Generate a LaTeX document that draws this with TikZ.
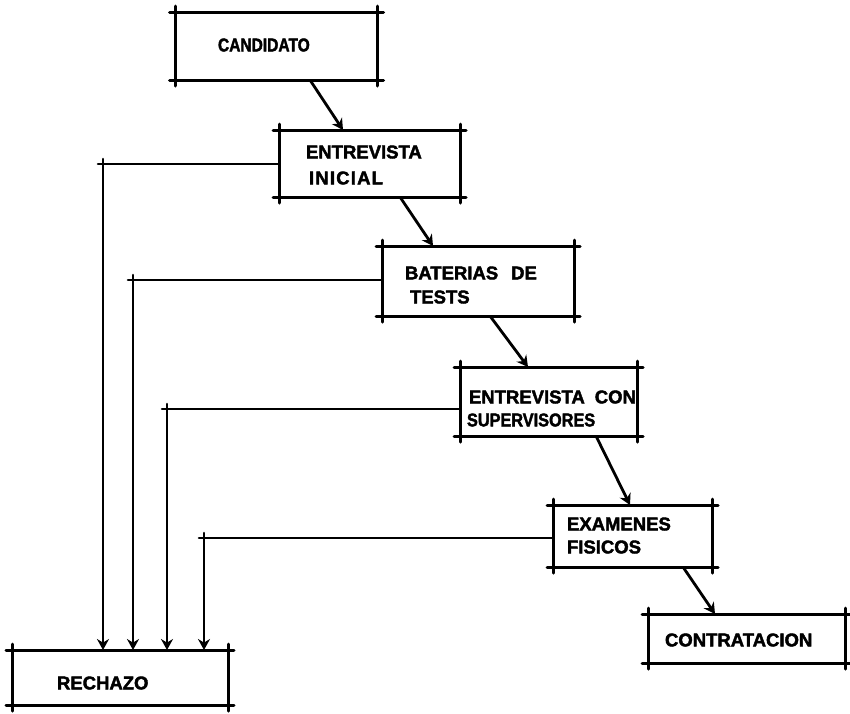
\documentclass[tikz,border=0pt]{standalone}
\usepackage{fontspec}
\setmainfont{Liberation Sans}
\newfontfamily\heavyfont{Liberation Sans}[BoldFeatures={FakeBold=2.2}]
\usetikzlibrary{arrows.meta,calc}

% draws the four sides of a box node, each side running a little past the corners
\newcommand\sketchframe[1]{%
  \draw[frame] ([xshift=-6]#1.north west) -- ([xshift=6]#1.north east);
  \draw[frame] ([xshift=-6]#1.south west) -- ([xshift=6]#1.south east);
  \draw[frame] ([yshift=6]#1.north west) -- ([yshift=-6]#1.south west);
  \draw[frame] ([yshift=6]#1.north east) -- ([yshift=-6]#1.south east);
}

\tikzset{
  box/.style={draw=none, rectangle, inner sep=0pt, outer sep=0pt},
  frame/.style={line width=3pt, line cap=round},
  lbl/.style={inner sep=0pt, outer sep=0pt, anchor=west,
    font=\heavyfont\fontsize{18.5}{21}\selectfont\bfseries},
  flow/.style={line width=2.8pt, -{Stealth[length=11pt,width=12pt]}},
  reject/.style={line width=2.8pt, -{Stealth[length=11pt,width=12pt]}},
}

\begin{document}
\begin{tikzpicture}[x=1pt,y=-1pt]
  \useasboundingbox (0,0) rectangle (850,713);

  % process boxes (centre, width, height)
  \node[box, minimum width=202, minimum height=68] (cand)  at (276.5,46)  {};
  \node[box, minimum width=181, minimum height=67] (ei)    at (369.5,163.5) {};
  \node[box, minimum width=192, minimum height=70] (bat)   at (478,281)   {};
  \node[box, minimum width=177, minimum height=69] (ecs)   at (548.5,401.5) {};
  \node[box, minimum width=159, minimum height=62] (ef)    at (632.5,536) {};
  \node[box, minimum width=197, minimum height=49] (contr) at (746.5,638.5) {};
  \node[box, minimum width=216, minimum height=55] (rech)  at (120,677.5) {};

  \foreach \b in {cand,ei,bat,ecs,ef,contr,rech} {\sketchframe{\b}}

  % box texts
  \node[lbl] (tcand) at (218,45)  {\scalebox{0.84}[1]{CANDIDATO}};
  \node[lbl] (tei1)  at (306,152) {ENTREVISTA};
  \node[lbl] (tei2)  at (309,178) {I\kern1.2pt N\kern1.2pt I\kern1.2pt C\kern1.2pt I\kern1.2pt A\kern1.2pt L};
  \node[lbl] (tbat1) at (405,273) {BATERIAS\hspace{13pt}DE};
  \node[lbl] (tbat2) at (410,297) {TESTS};
  \node[lbl] (tecs1) at (469,397) {ENTREVISTA\hspace{10pt}CON};
  \node[lbl] (tecs2) at (467,420) {\scalebox{0.88}[1]{SUPERVISORES}};
  \node[lbl] (tef1)  at (567,524) {EXAMENES};
  \node[lbl] (tef2)  at (567,547) {FISICOS};
  \node[lbl] (tcon)  at (665,640) {CONTRATACION};
  \node[lbl] (trech) at (57,683)  {RECHAZO};

  % main sequence
  \draw[flow] (cand.south -| 310,0) -- (ei.north -| 343,0);
  \draw[flow] (ei.south -| 400,0)   -- (bat.north -| 433,0);
  \draw[flow] (bat.south -| 490,0)  -- (ecs.north -| 528,0);
  \draw[flow] (ecs.south -| 596,0)  -- (ef.north -| 630,0);
  \draw[flow] (ef.south -| 683,0)   -- (contr.north -| 715,0);

  % rejection paths
  \coordinate (k1) at (103,164);
  \coordinate (k2) at (133,280);
  \coordinate (k3) at (167,409);
  \coordinate (k4) at (204,538);
  \draw[reject] (ei.west |- k1)  -- (k1) -- (rech.north -| k1);
  \draw[reject] (bat.west |- k2) -- (k2) -- (rech.north -| k2);
  \draw[reject] (ecs.west |- k3) -- (k3) -- (rech.north -| k3);
  \draw[reject] (ef.west |- k4)  -- (k4) -- (rech.north -| k4);
  % small overshoot ticks at the bends
  \foreach \k in {k1,k2,k3,k4} {
    \draw[frame, line width=2.6pt] ([xshift=-5]\k) -- (\k);
    \draw[frame, line width=2.6pt] ([yshift=5]\k) -- (\k);
  }
\end{tikzpicture}
\end{document}
